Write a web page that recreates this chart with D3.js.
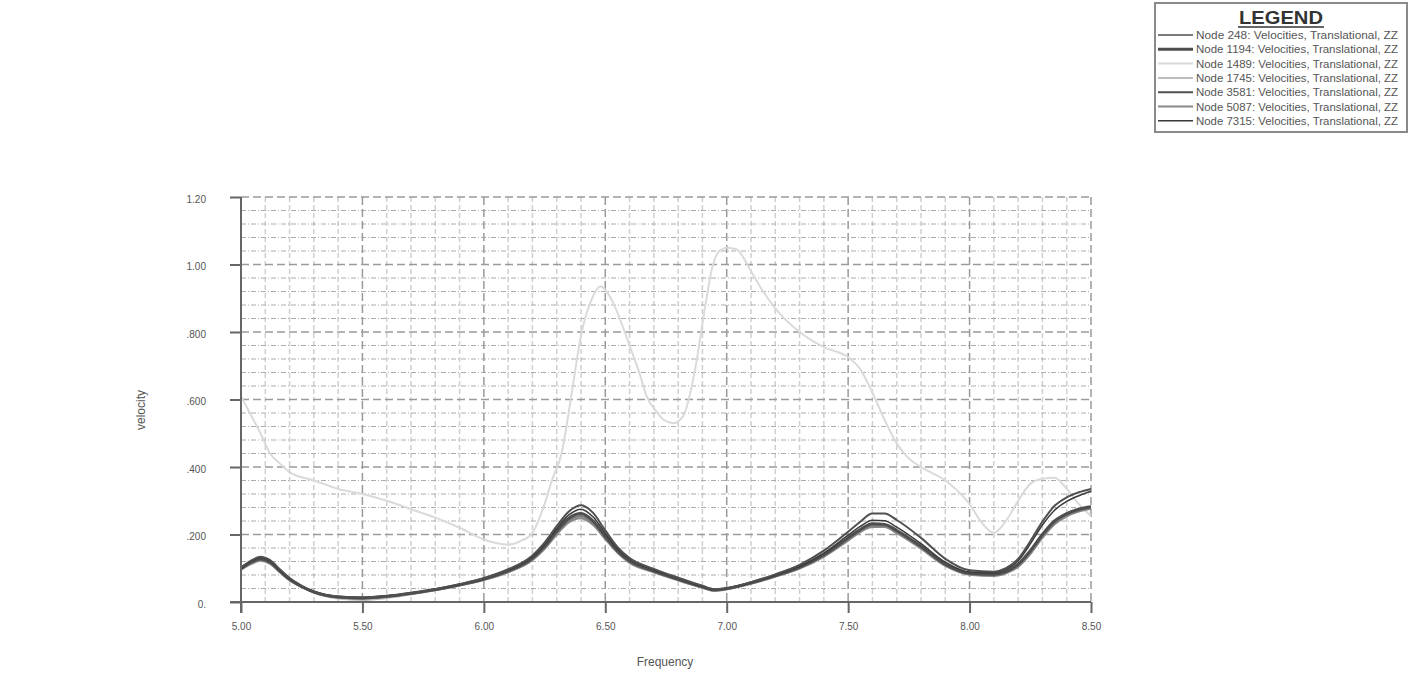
<!DOCTYPE html>
<html>
<head>
<meta charset="utf-8">
<script src="https://cdn.jsdelivr.net/npm/d3@7"></script>
<style>
  body { margin: 0; background: #fff; }
  svg { font-family: "Liberation Sans", Arial, sans-serif; }
</style>
</head>
<body>
<div id="chart"></div>
<script>
// Frequencies shared by the clustered node curves
var freqCluster = [5.00,5.04,5.08,5.12,5.16,5.20,5.25,5.30,5.40,5.50,5.60,5.70,5.80,5.90,6.00,6.10,6.20,6.25,6.30,6.35,6.40,6.45,6.50,6.55,6.60,6.70,6.80,6.90,6.95,7.00,7.10,7.20,7.30,7.40,7.50,7.55,7.60,7.65,7.70,7.80,7.90,8.00,8.10,8.15,8.20,8.25,8.30,8.35,8.40,8.45,8.50];

// Frequencies for the high (node 1489) curve
var freqHigh = [5.00,5.04,5.08,5.12,5.16,5.20,5.30,5.40,5.50,5.60,5.70,5.80,5.90,6.00,6.05,6.10,6.15,6.20,6.25,6.28,6.32,6.36,6.40,6.44,6.48,6.53,6.57,6.60,6.64,6.67,6.71,6.74,6.78,6.82,6.87,6.91,6.94,6.97,7.00,7.04,7.10,7.15,7.20,7.30,7.40,7.50,7.55,7.60,7.65,7.70,7.75,7.80,7.90,7.95,8.00,8.05,8.10,8.15,8.20,8.25,8.30,8.35,8.40,8.45,8.50];

var node248  = [.097,.115,.125,.116,.090,.066,.045,.029,.014,.011,.016,.025,.036,.050,.067,.090,.127,.161,.205,.242,.255,.234,.190,.149,.119,.090,.066,.044,.035,.039,.056,.077,.101,.137,.186,.211,.227,.226,.208,.162,.110,.084,.080,.088,.108,.147,.195,.235,.258,.271,.279];
var node1194 = [.100,.118,.128,.118,.092,.068,.046,.030,.015,.012,.017,.026,.037,.051,.068,.092,.130,.165,.210,.248,.262,.240,.195,.152,.122,.092,.068,.045,.036,.040,.057,.078,.103,.140,.190,.215,.232,.230,.212,.165,.112,.085,.082,.090,.112,.152,.200,.240,.262,.275,.282];
var node1489 = [.610,.555,.500,.440,.410,.385,.360,.335,.320,.300,.275,.250,.220,.185,.175,.170,.180,.205,.290,.360,.440,.610,.790,.890,.935,.890,.820,.760,.680,.610,.565,.540,.530,.550,.690,.870,.990,1.04,1.05,1.045,.980,.920,.870,.800,.755,.725,.690,.620,.540,.470,.425,.400,.360,.330,.290,.235,.205,.240,.300,.350,.365,.368,.335,.290,.255];
var node1745 = [.096,.114,.124,.114,.089,.065,.044,.027,.010,.006,.012,.023,.035,.049,.066,.089,.126,.160,.203,.240,.252,.231,.188,.148,.118,.089,.065,.043,.033,.037,.055,.076,.100,.136,.184,.209,.225,.224,.206,.160,.109,.083,.079,.087,.106,.145,.193,.233,.256,.270,.278];
var node3581 = [.102,.122,.134,.124,.097,.071,.048,.031,.016,.013,.018,.027,.038,.053,.071,.097,.138,.176,.225,.268,.287,.264,.212,.163,.130,.098,.072,.048,.038,.041,.059,.082,.110,.152,.208,.238,.262,.262,.243,.190,.128,.094,.090,.100,.128,.180,.238,.285,.310,.325,.335];
var node5087 = [.095,.112,.122,.113,.088,.064,.044,.028,.013,.010,.015,.024,.035,.049,.065,.088,.124,.157,.200,.236,.248,.228,.186,.146,.116,.088,.064,.042,.033,.038,.054,.075,.099,.134,.182,.207,.222,.222,.204,.158,.107,.081,.077,.085,.104,.142,.190,.230,.254,.268,.276];
var node7315 = [.098,.120,.131,.121,.094,.069,.047,.031,.016,.013,.018,.027,.038,.052,.070,.095,.134,.171,.218,.258,.275,.252,.204,.158,.127,.095,.070,.046,.037,.041,.058,.080,.106,.145,.198,.224,.242,.241,.222,.173,.118,.089,.087,.096,.122,.172,.228,.272,.298,.315,.328];

var legendNames = ["Node 248: Velocities, Translational, ZZ","Node 1194: Velocities, Translational, ZZ","Node 1489: Velocities, Translational, ZZ","Node 1745: Velocities, Translational, ZZ","Node 3581: Velocities, Translational, ZZ","Node 5087: Velocities, Translational, ZZ","Node 7315: Velocities, Translational, ZZ"];

var xTicks = [5.00,5.50,6.00,6.50,7.00,7.50,8.00,8.50];
var xTickLabels = ["5.00","5.50","6.00","6.50","7.00","7.50","8.00","8.50"];
var yTicks = [0,0.2,0.4,0.6,0.8,1.0,1.2];
var yTickLabels = ["0.",".200",".400",".600",".800","1.00","1.20"];

// Series table (legend order) with styles
var series = [
    {name: legendNames[0], freq: freqCluster, vals: node248,  color: "#7a7a7a", width: 2},
    {name: legendNames[1], freq: freqCluster, vals: node1194, color: "#4e4e4e", width: 3},
    {name: legendNames[2], freq: freqHigh,    vals: node1489, color: "#dadada", width: 2},
    {name: legendNames[3], freq: freqCluster, vals: node1745, color: "#bdbdbd", width: 2},
    {name: legendNames[4], freq: freqCluster, vals: node3581, color: "#505050", width: 2},
    {name: legendNames[5], freq: freqCluster, vals: node5087, color: "#888888", width: 2},
    {name: legendNames[6], freq: freqCluster, vals: node7315, color: "#3a3a3a", width: 1.5}
];
var drawOrder = [2, 3, 5, 0, 1, 6, 4];

var W = 1417, H = 678;
var svg = d3.select("#chart").append("svg")
    .attr("width", W)
    .attr("height", H);

// Plot area
var x0 = 241, x1 = 1091, yTop = 197, yBot = 602;
var xScale = d3.scaleLinear().domain([5.0, 8.5]).range([x0, x1]);
var yScale = d3.scaleLinear().domain([0, 1.2]).range([yBot, yTop]);

// Grid - minor first
var grid = svg.append("g");
var minorX = d3.range(5.1, 8.5, 0.1).filter(function(v) { return Math.abs(v * 2 - Math.round(v * 2)) > 0.01; });
var minorY = d3.range(0.04, 1.2, 0.04).filter(function(v) { return Math.abs(v * 5 - Math.round(v * 5)) > 0.01; });

grid.selectAll(".minor-x")
    .data(minorX)
  .enter().append("line")
    .attr("x1", function(d) { return xScale(d); })
    .attr("x2", function(d) { return xScale(d); })
    .attr("y1", yTop).attr("y2", yBot)
    .attr("stroke", "#cfcfcf")
    .attr("stroke-width", 1.5)
    .attr("stroke-dasharray", "5,3");

grid.selectAll(".minor-y")
    .data(minorY)
  .enter().append("line")
    .attr("x1", x0).attr("x2", x1)
    .attr("y1", function(d) { return yScale(d); })
    .attr("y2", function(d) { return yScale(d); })
    .attr("stroke", "#acacac")
    .attr("stroke-width", 1)
    .attr("stroke-dasharray", "5,2,1,2");

grid.selectAll(".major-x")
    .data(xTicks.slice(1))
  .enter().append("line")
    .attr("x1", function(d) { return xScale(d); })
    .attr("x2", function(d) { return xScale(d); })
    .attr("y1", yTop).attr("y2", yBot)
    .attr("stroke", "#9a9a9a")
    .attr("stroke-width", 1.5)
    .attr("stroke-dasharray", "8,4");

grid.selectAll(".major-y")
    .data(yTicks.slice(1))
  .enter().append("line")
    .attr("x1", x0).attr("x2", x1)
    .attr("y1", function(d) { return yScale(d); })
    .attr("y2", function(d) { return yScale(d); })
    .attr("stroke", "#9a9a9a")
    .attr("stroke-width", 1.5)
    .attr("stroke-dasharray", "8,4");

// Curves
var line = d3.line()
    .x(function(d) { return xScale(d[0]); })
    .y(function(d) { return yScale(d[1]); })
    .curve(d3.curveMonotoneX);

drawOrder.forEach(function(i) {
    var s = series[i];
    svg.append("path")
        .datum(s.freq.map(function(f, k) { return [f, s.vals[k]]; }))
        .attr("fill", "none")
        .attr("stroke", s.color)
        .attr("stroke-width", s.width)
        .attr("d", line);
});

// Axes
var xAxis = d3.axisBottom(xScale)
    .tickValues(xTicks)
    .tickFormat(function(d, i) { return xTickLabels[i]; })
    .tickSize(11)
    .tickSizeOuter(0)
    .tickPadding(10);

var yAxis = d3.axisLeft(yScale)
    .tickValues(yTicks)
    .tickFormat(function(d, i) { return yTickLabels[i]; })
    .tickSize(11)
    .tickSizeOuter(0)
    .tickPadding(25);

var gx = svg.append("g")
    .attr("transform", "translate(0," + yBot + ")")
    .call(xAxis);
var gy = svg.append("g")
    .attr("transform", "translate(" + x0 + ",0)")
    .call(yAxis);

[gx, gy].forEach(function(g) {
    g.select(".domain").remove();
    g.selectAll(".tick line").attr("stroke", "#666").attr("stroke-width", 2);
    g.selectAll(".tick text").attr("fill", "#555").style("font-size", "10px");
});
gy.selectAll(".tick text").attr("x", -35).attr("dy", "0.5em");

// Axis lines
svg.append("line")
    .attr("x1", x0).attr("x2", x0)
    .attr("y1", yTop).attr("y2", yBot + 11)
    .attr("stroke", "#666").attr("stroke-width", 2);
svg.append("line")
    .attr("x1", x0 - 11).attr("x2", x1)
    .attr("y1", yBot).attr("y2", yBot)
    .attr("stroke", "#666").attr("stroke-width", 2);

// Axis titles
svg.append("text")
    .attr("x", 665).attr("y", 666)
    .attr("text-anchor", "middle")
    .attr("fill", "#555")
    .style("font-size", "12px")
    .text("Frequency");

svg.append("text")
    .attr("transform", "translate(145,410) rotate(-90)")
    .attr("text-anchor", "middle")
    .attr("fill", "#555")
    .style("font-size", "12px")
    .text("velocity");

// Legend
var legend = svg.append("g");
legend.append("rect")
    .attr("x", 1155).attr("y", 3)
    .attr("width", 252).attr("height", 129)
    .attr("fill", "#fff")
    .attr("stroke", "#8a8a8a")
    .attr("stroke-width", 2);

legend.append("text")
    .attr("x", 1281).attr("y", 24)
    .attr("text-anchor", "middle")
    .attr("fill", "#333")
    .style("font-size", "19px")
    .style("font-weight", "bold")
    .attr("textLength", 84)
    .attr("lengthAdjust", "spacingAndGlyphs")
    .text("LEGEND");
legend.append("line")
    .attr("x1", 1238).attr("x2", 1324)
    .attr("y1", 27).attr("y2", 27)
    .attr("stroke", "#333").attr("stroke-width", 1.5);

series.forEach(function(s, i) {
    var yy = 35 + i * 14.3;
    legend.append("line")
        .attr("x1", 1158).attr("x2", 1193)
        .attr("y1", yy).attr("y2", yy)
        .attr("stroke", s.color)
        .attr("stroke-width", s.width);
    legend.append("text")
        .attr("x", 1196).attr("y", yy + 4)
        .attr("fill", "#555")
        .style("font-size", "10.5px")
        .attr("textLength", 202)
        .attr("lengthAdjust", "spacingAndGlyphs")
        .text(s.name);
});
</script>
</body>
</html>
